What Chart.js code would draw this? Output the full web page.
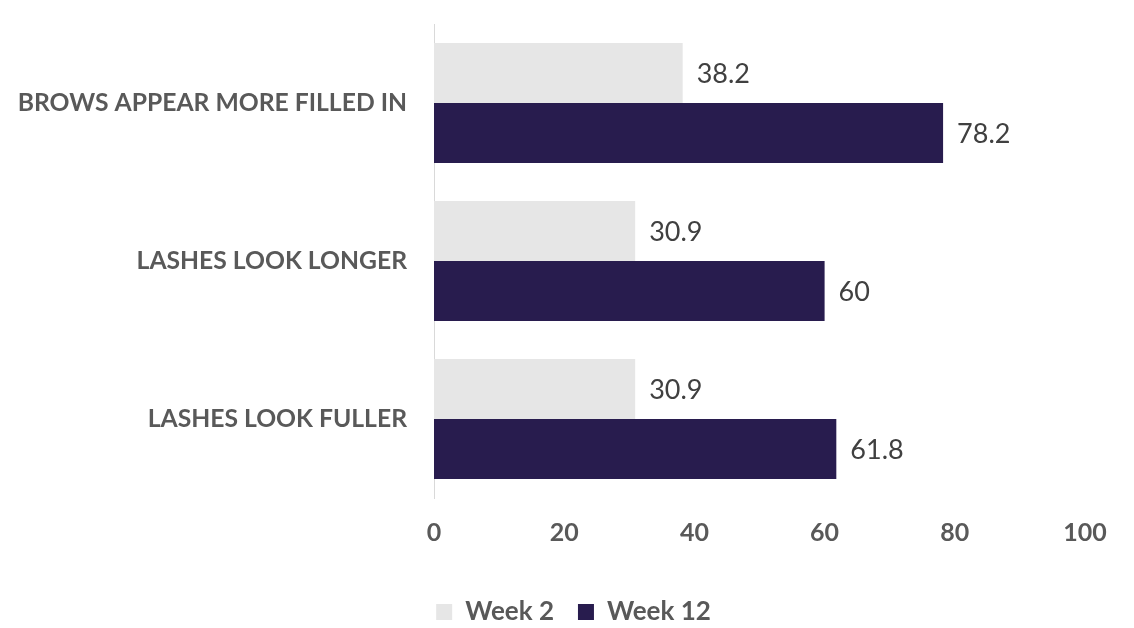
<!DOCTYPE html>
<html>
<head>
<meta charset="utf-8">
<script src="https://cdn.jsdelivr.net/npm/chart.js@4.4.1/dist/chart.umd.min.js"></script>
<style>
html,body{margin:0;padding:0;background:#fff;}
#wrap{width:1134px;height:628px;position:relative;}
</style>
</head>
<body>
<div id="wrap"><canvas id="c" width="1134" height="628"></canvas></div>
<script>
const categories = ["BROWS APPEAR MORE FILLED IN", "LASHES LOOK LONGER", "LASHES LOOK FULLER"];
const week2 = [38.2, 30.9, 30.9];
const week12 = [78.2, 60, 61.8];
const xTicks = [0, 20, 40, 60, 80, 100];
const seriesNames = ["Week 2", "Week 12"];

const FONT = "Lato, 'Open Sans', sans-serif";

const valueLabels = {
  id: 'valueLabels',
  afterDatasetsDraw(chart) {
    const ctx = chart.ctx;
    ctx.save();
    ctx.font = "27px " + FONT;
    ctx.fillStyle = "#404040";
    ctx.textAlign = "left";
    ctx.textBaseline = "middle";
    chart.data.datasets.forEach((ds, i) => {
      const meta = chart.getDatasetMeta(i);
      meta.data.forEach((el, j) => {
        ctx.fillText(String(ds.data[j]), el.x + 14, el.y + 1);
      });
    });
    ctx.restore();
  }
};

const legendShift = {
  id: 'legendShift',
  afterLayout(chart) {
    if (chart.legend) { chart.legend.left += 31; chart.legend.right += 31; }
  }
};

new Chart(document.getElementById('c'), {
  type: 'bar',
  data: {
    labels: categories,
    datasets: [
      { label: seriesNames[0], data: week2, backgroundColor: '#e6e6e6', borderWidth: 0,
        categoryPercentage: 0.76, barPercentage: 1 },
      { label: seriesNames[1], data: week12, backgroundColor: '#281c4e', borderWidth: 0,
        categoryPercentage: 0.76, barPercentage: 1 }
    ]
  },
  options: {
    indexAxis: 'y',
    responsive: false,
    animation: false,
    events: [],
    layout: { padding: { top: 24, right: 49, left: 0, bottom: -7 } },
    scales: {
      x: {
        min: 0, max: 100,
        afterBuildTicks(axis) { axis.ticks = xTicks.map(v => ({ value: v })); },
        grid: { display: false, drawTicks: false },
        border: { display: false },
        ticks: { color: '#595959', font: { family: FONT, size: 25, weight: 'bold' }, padding: 20, maxRotation: 0 },
        afterFit(axis) { axis.height = 77; }
      },
      y: {
        grid: { display: false, drawTicks: false },
        border: { display: true, color: '#d9d9d9', width: 1 },
        ticks: { color: '#595959', font: { family: FONT, size: 24.7, weight: 'bold' }, padding: 27 },
        afterFit(axis) { axis.width = 434; axis.paddingTop = 0; axis.paddingBottom = 0; }
      }
    },
    plugins: {
      legend: {
        position: 'bottom',
        labels: {
          boxWidth: 16, boxHeight: 16, padding: 24,
          color: '#595959',
          font: { family: FONT, size: 26, weight: 'bold' }
        }
      },
      tooltip: { enabled: false }
    }
  },
  plugins: [valueLabels, legendShift]
});
</script>
</body>
</html>
